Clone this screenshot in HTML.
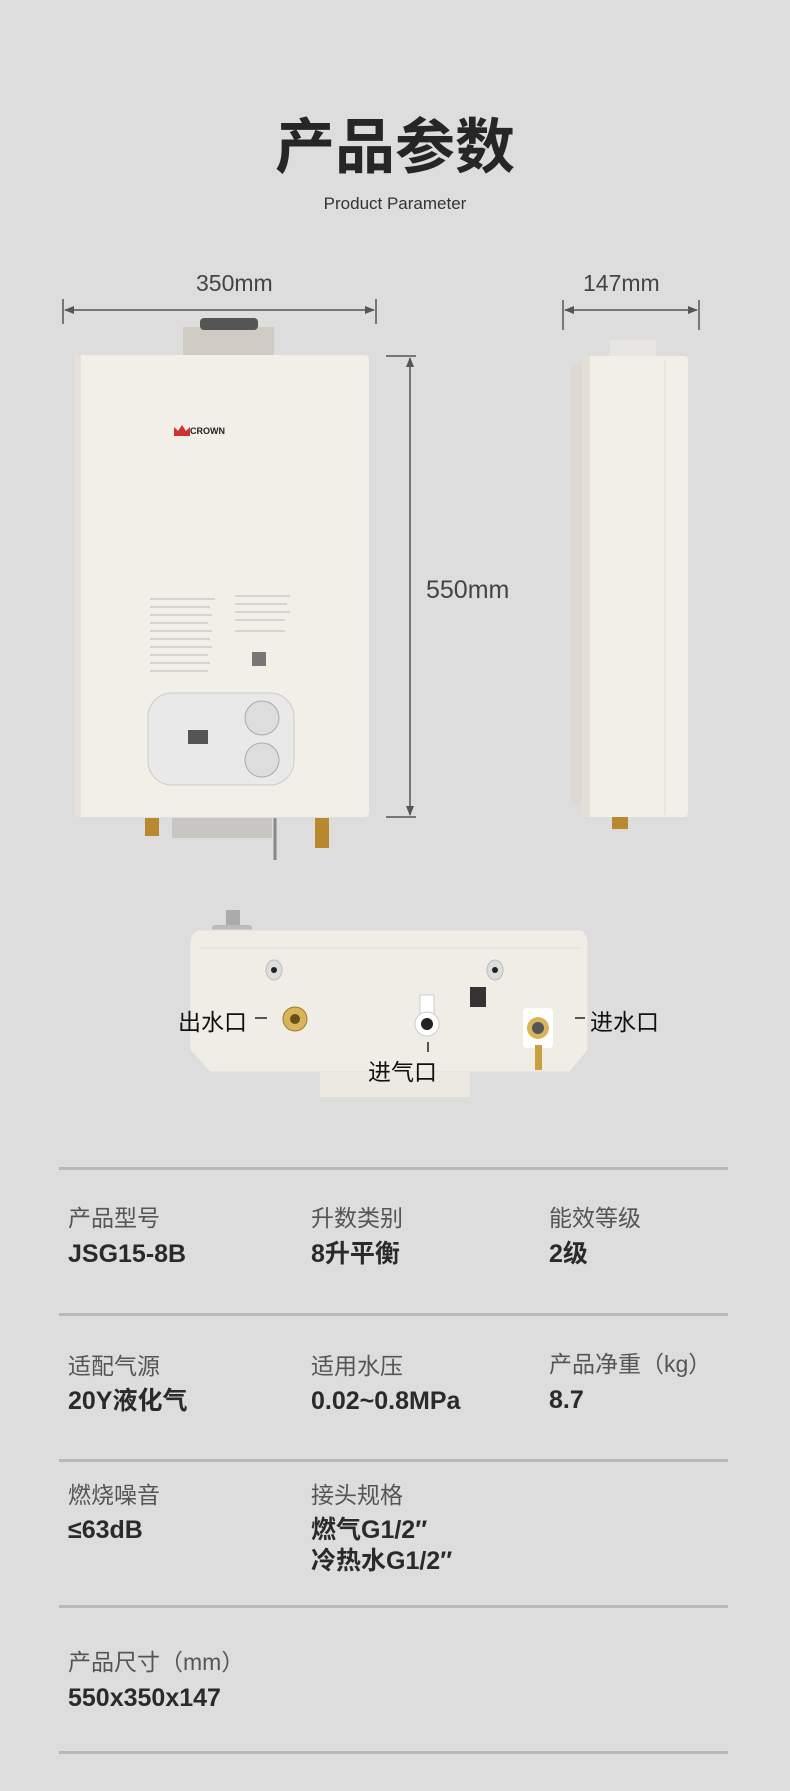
<!DOCTYPE html>
<html><head><meta charset="utf-8"><style>
body{margin:0;width:790px;height:1791px;background:#dddddd;position:relative;overflow:hidden;font-family:"Liberation Sans","Noto Sans CJK SC",sans-serif;color:#222}
.a{position:absolute;white-space:nowrap}
.lab{position:absolute;font-size:23px;color:#555;line-height:1}
.val{position:absolute;font-size:25px;font-weight:bold;color:#2a2a2a;line-height:1.25}
.hr{position:absolute;left:59px;width:669px;height:3px;background:#b8b8b8}
</style></head><body>
<div class="a" style="left:0;width:790px;text-align:center;top:118px;font-size:60px;font-weight:bold;color:#262626;line-height:1">产品参数</div>
<div class="a" style="left:0;width:790px;text-align:center;top:194px;font-size:17px;color:#333">Product Parameter</div>

<svg class="a" style="left:0;top:0" width="790" height="1120">
<defs><marker id="ar" markerWidth="10" markerHeight="8" refX="9" refY="4" orient="auto-start-reverse" markerUnits="userSpaceOnUse"><path d="M0,0 L10,4 L0,8z" fill="#555"/></marker></defs>
<g stroke="#555" stroke-width="1.5" fill="none">
<line x1="63" y1="299" x2="63" y2="324"/><line x1="376" y1="299" x2="376" y2="324"/>
<line x1="65" y1="310" x2="374" y2="310" marker-end="url(#ar)" marker-start="url(#ar)"/>
<line x1="563" y1="300" x2="563" y2="330"/><line x1="699" y1="300" x2="699" y2="330"/>
<line x1="565" y1="310" x2="697" y2="310" marker-end="url(#ar)" marker-start="url(#ar)"/>
<line x1="386" y1="356" x2="416" y2="356"/><line x1="386" y1="817" x2="416" y2="817"/>
<line x1="410" y1="358" x2="410" y2="815" marker-end="url(#ar)" marker-start="url(#ar)"/>
</g>
<!-- front unit -->
<rect x="183" y="327" width="91" height="28" fill="#cfcac2"/>
<rect x="200" y="318" width="58" height="12" rx="4" fill="#555"/>
<rect x="75" y="355" width="294" height="462" rx="4" fill="#f2efe8"/>
<rect x="75" y="355" width="6" height="462" fill="#e6e2da"/>
<text x="190" y="434" font-size="9" font-weight="bold" fill="#222" font-family="Liberation Sans">CROWN</text>
<path d="M174 436 l0-9 4 4 4-6 4 6 4-4 0 9z" fill="#c33"/>
<g fill="#bbb" opacity=".5">
<rect x="150" y="598" width="65" height="2"/><rect x="150" y="606" width="60" height="2"/><rect x="150" y="614" width="62" height="2"/><rect x="150" y="622" width="58" height="2"/><rect x="150" y="630" width="62" height="2"/><rect x="150" y="638" width="60" height="2"/><rect x="150" y="646" width="62" height="2"/><rect x="150" y="654" width="58" height="2"/><rect x="150" y="662" width="60" height="2"/><rect x="150" y="670" width="58" height="2"/>
<rect x="235" y="595" width="55" height="2"/><rect x="235" y="603" width="52" height="2"/><rect x="235" y="611" width="55" height="2"/><rect x="235" y="619" width="50" height="2"/><rect x="235" y="630" width="50" height="2"/>
</g>
<rect x="252" y="652" width="14" height="14" fill="#777"/>
<rect x="148" y="693" width="146" height="92" rx="24" fill="#e9e9ea" stroke="#ccc"/>
<rect x="188" y="730" width="20" height="14" fill="#555"/>
<circle cx="262" cy="718" r="17" fill="#ddd" stroke="#aaa"/><circle cx="262" cy="760" r="17" fill="#ddd" stroke="#aaa"/>
<rect x="145" y="818" width="14" height="18" fill="#b8892e"/>
<rect x="172" y="818" width="100" height="20" fill="#c8c6c2"/>
<rect x="315" y="818" width="14" height="30" fill="#b8892e"/>
<line x1="275" y1="818" x2="275" y2="860" stroke="#888" stroke-width="3"/>
<!-- side unit -->
<rect x="610" y="340" width="46" height="16" fill="#e8e6e2"/>
<rect x="571" y="365" width="15" height="440" fill="#ddd9d1"/>
<rect x="582" y="356" width="106" height="461" rx="4" fill="#f2efe8"/>
<rect x="582" y="356" width="8" height="461" fill="#e4e0d8"/>
<line x1="665" y1="360" x2="665" y2="815" stroke="#e0dcd4"/>
<rect x="612" y="817" width="16" height="12" fill="#b8892e"/>
<!-- bottom view -->
<rect x="226" y="910" width="14" height="22" fill="#aaa"/><rect x="212" y="925" width="40" height="8" rx="3" fill="#bbb"/>
<path d="M200 930 H578 Q588 930 588 945 V1050 L570 1072 H210 L190 1050 V945 Q190 930 200 930z" fill="#f0ede6" stroke="#ddd"/>
<line x1="200" y1="948" x2="580" y2="948" stroke="#ddd"/>
<rect x="320" y="1072" width="150" height="25" fill="#ece9e2"/>
<ellipse cx="274" cy="970" rx="8" ry="10" fill="#ddd" stroke="#bbb"/><circle cx="274" cy="970" r="3" fill="#222"/>
<ellipse cx="495" cy="970" rx="8" ry="10" fill="#ddd" stroke="#bbb"/><circle cx="495" cy="970" r="3" fill="#222"/>
<rect x="470" y="987" width="16" height="20" fill="#333"/>
<circle cx="295" cy="1019" r="12" fill="#d9b55a" stroke="#9d7a2c"/><circle cx="295" cy="1019" r="5" fill="#6a4f1a"/>
<rect x="420" y="995" width="14" height="20" fill="#fff" stroke="#ccc"/>
<circle cx="427" cy="1024" r="12" fill="#fff" stroke="#ccc"/><circle cx="427" cy="1024" r="6" fill="#222"/>
<rect x="523" y="1008" width="30" height="40" rx="4" fill="#fff"/>
<circle cx="538" cy="1028" r="11" fill="#d9b55a"/><circle cx="538" cy="1028" r="6" fill="#555"/>
<rect x="535" y="1045" width="7" height="25" fill="#c9a040"/>
<g stroke="#222" stroke-width="1.5"><line x1="255" y1="1018" x2="267" y2="1018"/><line x1="575" y1="1018" x2="585" y2="1018"/><line x1="428" y1="1042" x2="428" y2="1052"/></g>
</svg>
<div class="a" style="left:196px;top:270px;font-size:23px;color:#444">350mm</div>
<div class="a" style="left:583px;top:270px;font-size:23px;color:#444">147mm</div>
<div class="a" style="left:426px;top:576px;font-size:25px;color:#444">550mm</div>
<div class="a" style="left:178px;top:1003px;font-size:23px;color:#111">出水口</div>
<div class="a" style="left:590px;top:1003px;font-size:23px;color:#111">进水口</div>
<div class="a" style="left:368px;top:1053px;font-size:23px;color:#111">进气口</div>

<div class="hr" style="top:1167px"></div>
<div class="hr" style="top:1313px"></div>
<div class="hr" style="top:1459px"></div>
<div class="hr" style="top:1605px"></div>
<div class="hr" style="top:1751px"></div>

<div class="lab" style="left:68px;top:1207px">产品型号</div><div class="val" style="left:68px;top:1239px">JSG15-8B</div>
<div class="lab" style="left:311px;top:1207px">升数类别</div><div class="val" style="left:311px;top:1239px">8升平衡</div>
<div class="lab" style="left:549px;top:1207px">能效等级</div><div class="val" style="left:549px;top:1239px">2级</div>

<div class="lab" style="left:68px;top:1355px">适配气源</div><div class="val" style="left:68px;top:1386px">20Y液化气</div>
<div class="lab" style="left:311px;top:1355px">适用水压</div><div class="val" style="left:311px;top:1386px">0.02~0.8MPa</div>
<div class="lab" style="left:549px;top:1353px">产品净重（kg）</div><div class="val" style="left:549px;top:1385px">8.7</div>

<div class="lab" style="left:68px;top:1484px">燃烧噪音</div><div class="val" style="left:68px;top:1515px">≤63dB</div>
<div class="lab" style="left:311px;top:1484px">接头规格</div><div class="val" style="left:311px;top:1515px">燃气G1/2″<br>冷热水G1/2″</div>

<div class="lab" style="left:68px;top:1651px">产品尺寸（mm）</div><div class="val" style="left:68px;top:1683px">550x350x147</div>
</body></html>
